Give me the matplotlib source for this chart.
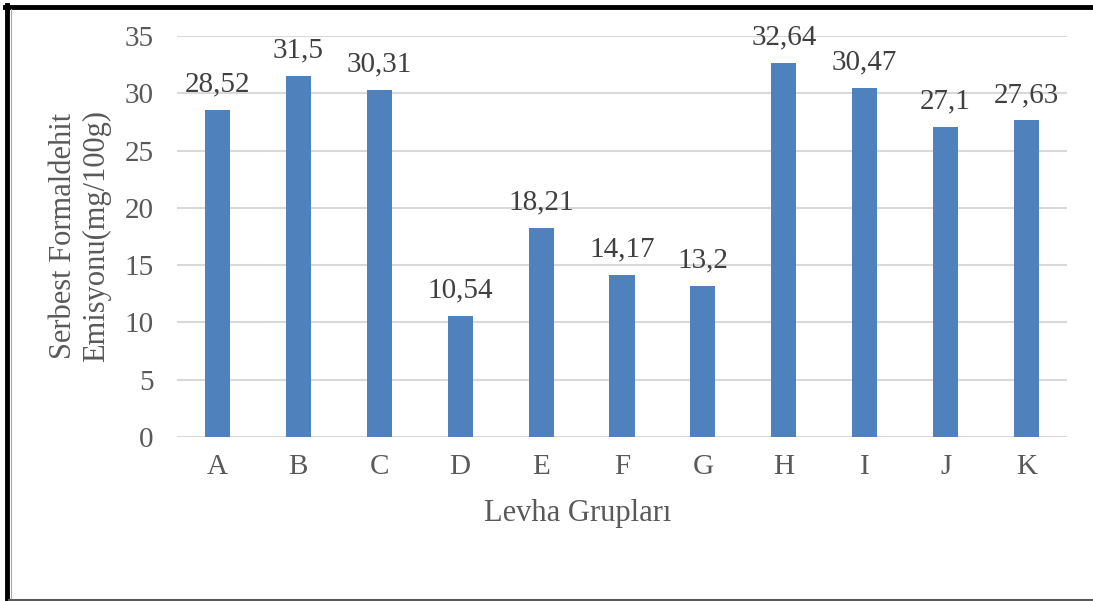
import matplotlib
matplotlib.use("Agg")
import matplotlib.pyplot as plt
from matplotlib.lines import Line2D

groups = ["A", "B", "C", "D", "E", "F", "G", "H", "I", "J", "K"]
emission = [28.52, 31.5, 30.31, 10.54, 18.21, 14.17, 13.2, 32.64, 30.47, 27.1, 27.63]
value_labels = ["28,52", "31,5", "30,31", "10,54", "18,21", "14,17", "13,2", "32,64", "30,47", "27,1", "27,63"]
y_ticks = [0, 5, 10, 15, 20, 25, 30, 35]

plt.rcParams["font.family"] = ["Liberation Serif", "DejaVu Serif"]

W, H = 1093, 601
fig = plt.figure(figsize=(W / 100, H / 100), dpi=100)
ax = fig.add_axes([177 / W, 1 - 437 / H, (1067 - 177) / W, (437 - 36) / H])

x = range(len(groups))
ax.bar(x, emission, width=0.31, color="#4f81bd", zorder=3)

for xi, v, lab in zip(x, emission, value_labels):
    ax.annotate(lab, (xi, v), xytext=(0, 9), textcoords="offset points",
                ha="center", va="bottom", fontsize=21, color="#404040")

ax.set_xlim(-0.5, len(groups) - 0.5)
ax.set_ylim(0, 35)
ax.set_yticks(y_ticks)
ax.set_xticks(list(x))
ax.set_xticklabels(groups)
ax.tick_params(axis="both", length=0, labelsize=21, colors="#595959")
ax.tick_params(axis="y", pad=17)
ax.tick_params(axis="x", pad=12)
ax.grid(axis="y", color="#d9d9d9", linewidth=1.5, zorder=0)
for s in ax.spines.values():
    s.set_visible(False)

# axis titles
fig.text(80 / W, 1 - 236 / H, "Serbest Formaldehit\nEmisyonu(mg/100g)", rotation=90,
         ha="center", va="center", fontsize=22, color="#595959", linespacing=1.15)
fig.text(578 / W, 1 - 513 / H, "Levha Grupları", ha="center", va="center",
         fontsize=22, color="#595959")

# frame around the chart
fig.add_artist(Line2D([7 / W, 7 / W], [0, 1 - 5 / H], color="black", linewidth=3.5))
fig.add_artist(Line2D([5 / W, 1], [1 - 7 / H, 1 - 7 / H], color="black", linewidth=3.5))
fig.add_artist(Line2D([10.5 / W, 10.5 / W], [0, 1 - 9 / H], color="#a6a6a6", linewidth=0.8))
fig.add_artist(Line2D([9 / W, 1], [1.2 / H, 1.2 / H], color="#595959", linewidth=1.5))

fig.savefig("out.png", dpi=100)
